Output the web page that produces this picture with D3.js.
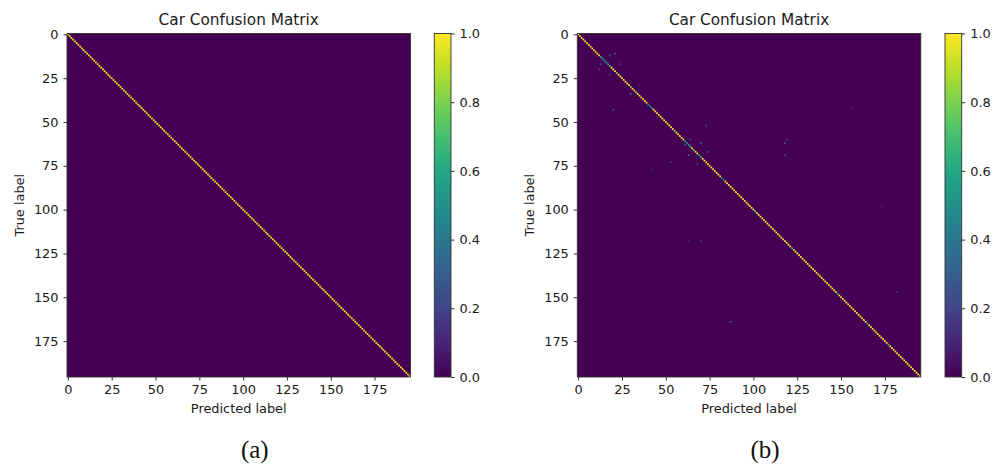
<!DOCTYPE html>
<html>
<head>
<meta charset="utf-8">
<script src="https://cdn.jsdelivr.net/npm/d3@7"></script>
<style>
  body { margin: 0; background: #fff; }
  text { font-family: "DejaVu Sans", sans-serif; fill: #1a1a1a; }
  .caption { font-family: "Liberation Serif", "Times New Roman", serif; fill: #111; }
</style>
</head>
<body>
<div id="chart"></div>
<script>
var nClasses = 196;
var axisTicks = [0, 25, 50, 75, 100, 125, 150, 175];
var barTicks = [0, 0.2, 0.4, 0.6, 0.8, 1.0];

// (a): every class predicted correctly
var diagA = new Array(nClasses).fill(1);
var offA = [];

// (b): diagonal cells that are not 1.0 [class, value]
var diagBLow = [
  [13, 0.7], [14, 0.55], [15, 0.5], [16, 0.55], [17, 0.6], [18, 0.75], [22, 0.8],
  [30, 0.85], [33, 0.85], [40, 0.55], [41, 0.5], [42, 0.6], [55, 0.8],
  [61, 0.55], [62, 0.5], [63, 0.6], [64, 0.7], [66, 0.75], [69, 0.6], [70, 0.7],
  [82, 0.5], [83, 0.55], [101, 0.75], [122, 0.7], [148, 0.65], [165, 0.65], [177, 0.7]
];
// (b): off-diagonal confusions [true, predicted, value]
var offB = [
  [11, 21, 0.4], [12, 18, 0.25], [17, 13, 0.2], [20, 12, 0.2], [17, 24, 0.15],
  [23, 18, 0.2], [29, 35, 0.15], [34, 30, 0.3], [43, 20, 0.2], [52, 73, 0.2],
  [60, 64, 0.25], [63, 61, 0.3], [62, 70, 0.35], [69, 63, 0.4], [67, 74, 0.2],
  [74, 68, 0.2], [73, 53, 0.15], [77, 42, 0.12], [60, 119, 0.2], [62, 118, 0.25],
  [69, 118, 0.2], [118, 63, 0.12], [118, 70, 0.15], [164, 87, 0.35],
  [147, 182, 0.12], [98, 173, 0.08], [42, 156, 0.08]
];

var diagB = diagA.slice();
diagBLow.forEach(function (d) { diagB[d[0]] = d[1]; });

function toCells(diag, off) {
  var cells = diag.map(function (v, i) { return {r: i, c: i, v: v}; });
  off.forEach(function (d) { cells.push({r: d[0], c: d[1], v: d[2]}); });
  return cells;
}

var color = d3.scaleSequential(d3.interpolateViridis).domain([0, 1]);

var svg = d3.select("#chart").append("svg")
    .attr("width", 1006)
    .attr("height", 469);

function drawPanel(left, cbLeft, cells, caption) {
  var top = 33.5, size = 343.5;
  var x = d3.scaleLinear().domain([-0.5, nClasses - 0.5]).range([left, left + size]);
  var y = d3.scaleLinear().domain([-0.5, nClasses - 0.5]).range([top, top + size]);
  var step = x(1) - x(0);

  var g = svg.append("g");

  g.append("rect")
    .attr("x", x(-0.5)).attr("y", y(-0.5))
    .attr("width", size).attr("height", size)
    .style("fill", color(0));

  g.selectAll(".cell")
    .data(cells)
    .enter().append("rect")
      .attr("class", "cell")
      .attr("x", function (d) { return x(d.c - 0.5); })
      .attr("y", function (d) { return y(d.r - 0.5); })
      .attr("width", step)
      .attr("height", step)
      .style("fill", function (d) { return color(d.v); });

  g.append("rect")
    .attr("x", left).attr("y", top)
    .attr("width", size).attr("height", size)
    .style("fill", "none").style("stroke", "#333").style("stroke-width", 0.9);

  var xAxis = d3.axisBottom(x).tickValues(axisTicks).tickSize(3.5).tickPadding(4.5);
  var yAxis = d3.axisLeft(y).tickValues(axisTicks).tickSize(3.5).tickPadding(5);

  var gx = g.append("g")
    .attr("transform", "translate(0," + (top + size) + ")")
    .call(xAxis);
  var gy = g.append("g")
    .attr("transform", "translate(" + left + ",0)")
    .call(yAxis);
  [gx, gy].forEach(function (a) {
    a.select(".domain").remove();
    a.selectAll("text").style("font-size", "12.9px").style("fill", "#1a1a1a");
    a.selectAll("line").style("stroke", "#333");
  });

  g.append("text")
    .attr("x", left + size / 2).attr("y", 24.5)
    .attr("text-anchor", "middle")
    .style("font-size", "15.3px")
    .text("Car Confusion Matrix");

  g.append("text")
    .attr("x", left + size / 2).attr("y", 413)
    .attr("text-anchor", "middle")
    .style("font-size", "12.9px")
    .text("Predicted label");

  g.append("text")
    .attr("transform", "translate(" + (left - 43.5) + "," + (top + size / 2) + ") rotate(-90)")
    .attr("text-anchor", "middle")
    .style("font-size", "12.9px")
    .text("True label");

  // colorbar
  var cbW = 16.7;
  var cy = d3.scaleLinear().domain([0, 1]).range([top + size, top]);
  var gradId = "grad" + Math.round(left);
  var grad = svg.append("defs").append("linearGradient")
    .attr("id", gradId)
    .attr("x1", 0).attr("y1", 1).attr("x2", 0).attr("y2", 0);
  d3.range(0, 1.01, 0.1).forEach(function (t) {
    grad.append("stop").attr("offset", t).attr("stop-color", color(t));
  });
  g.append("rect")
    .attr("x", cbLeft).attr("y", top)
    .attr("width", cbW).attr("height", size)
    .style("fill", "url(#" + gradId + ")")
    .style("stroke", "#333").style("stroke-width", 0.9);

  var cAxis = d3.axisRight(cy).tickValues(barTicks).tickFormat(d3.format(".1f")).tickSize(3.5).tickPadding(5);
  var gc = g.append("g")
    .attr("transform", "translate(" + (cbLeft + cbW) + ",0)")
    .call(cAxis);
  gc.select(".domain").remove();
  gc.selectAll("text").style("font-size", "12.9px").style("fill", "#1a1a1a");
  gc.selectAll("line").style("stroke", "#333");

  g.append("text")
    .attr("class", "caption")
    .attr("x", left + size / 2 + 16).attr("y", 458)
    .attr("text-anchor", "middle")
    .style("font-size", "25px")
    .text(caption);
}

drawPanel(67, 434.3, toCells(diagA, offA), "(a)");
drawPanel(577.3, 945, toCells(diagB, offB), "(b)");
</script>
</body>
</html>
